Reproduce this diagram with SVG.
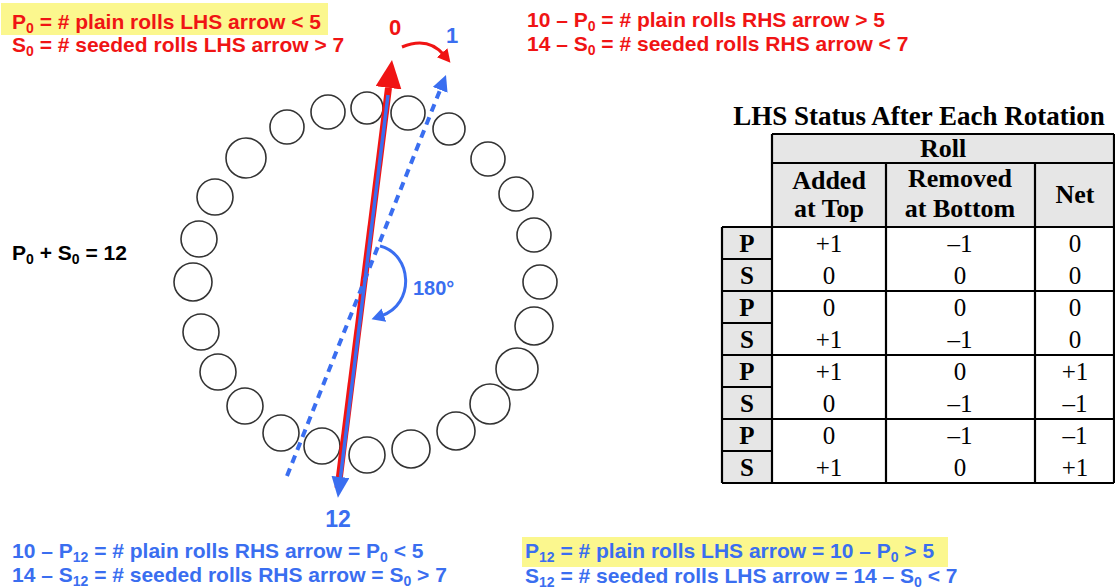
<svg xmlns="http://www.w3.org/2000/svg" width="1115" height="588" viewBox="0 0 1115 588">
<style>
.t{font-family:"Liberation Sans",Arial,sans-serif;font-weight:bold;font-size:21px}
.red{fill:#f01414}
.blue{fill:#3a6ef0}
.blk{fill:#000}
.roll{fill:none;stroke:#333;stroke-width:1.6}
.tb{font-family:"Liberation Serif","Times New Roman",serif;font-size:25px;fill:#000;text-anchor:middle}
.b{font-weight:bold}
.h{font-size:26px}
.grid{stroke:#000;stroke-width:2.2;fill:none}
</style>
<defs>
<marker id="hRed" markerUnits="userSpaceOnUse" markerWidth="30" markerHeight="26" refX="0" refY="13" orient="auto"><path d="M0,0 L28,13 L0,26 z" fill="#f01414"/></marker>
<marker id="hBlue" markerUnits="userSpaceOnUse" markerWidth="22" markerHeight="18" refX="0" refY="9" orient="auto"><path d="M0,0 L21,9 L0,18 z" fill="#3a6ef0"/></marker>
<marker id="hBlueS" markerUnits="userSpaceOnUse" markerWidth="18" markerHeight="16" refX="0" refY="8" orient="auto"><path d="M0,0 L16,8 L0,16 z" fill="#3a6ef0"/></marker>
<marker id="hRedS" markerUnits="userSpaceOnUse" markerWidth="14" markerHeight="14" refX="3" refY="7" orient="auto"><path d="M0,0 L13,7 L0,14 z" fill="#f01414"/></marker>
<marker id="hBlueA" markerUnits="userSpaceOnUse" markerWidth="14" markerHeight="14" refX="3" refY="7" orient="auto"><path d="M0,0 L13,7 L0,14 z" fill="#3a6ef0"/></marker>
</defs>
<rect width="1115" height="588" fill="#fff"/>

<!-- highlights -->
<rect x="1" y="3" width="327" height="32" fill="#fbf78e"/>
<rect x="522" y="537" width="426" height="30" fill="#fbf78e"/>

<!-- top-left texts -->
<g id="txt-p0">
<text class="t red" x="12" y="29">P<tspan font-size="14" dy="4">0</tspan><tspan dy="-4"> = # plain rolls LHS arrow &lt; 5</tspan></text>
<text class="t red" x="12" y="52">S<tspan font-size="14" dy="4">0</tspan><tspan dy="-4"> = # seeded rolls LHS arrow &gt; 7</tspan></text>
</g>
<g id="txt-rhs0">
<text class="t red" x="527" y="27">10 – P<tspan font-size="14" dy="4">0</tspan><tspan dy="-4"> = # plain rolls RHS arrow &gt; 5</tspan></text>
<text class="t red" x="527" y="51">14 – S<tspan font-size="14" dy="4">0</tspan><tspan dy="-4"> = # seeded rolls RHS arrow &lt; 7</tspan></text>
</g>
<g id="txt-sum">
<text class="t blk" x="12" y="260">P<tspan font-size="14" dy="4">0</tspan><tspan dy="-4"> + S</tspan><tspan font-size="14" dy="4">0</tspan><tspan dy="-4"> = 12</tspan></text>
</g>
<g id="txt-bl">
<text class="t blue" x="12" y="558">10 – P<tspan font-size="14" dy="4">12</tspan><tspan dy="-4"> = # plain rolls RHS arrow = P</tspan><tspan font-size="14" dy="4">0</tspan><tspan dy="-4"> &lt; 5</tspan></text>
<text class="t blue" x="12" y="582">14 – S<tspan font-size="14" dy="4">12</tspan><tspan dy="-4"> = # seeded rolls RHS arrow = S</tspan><tspan font-size="14" dy="4">0</tspan><tspan dy="-4"> &gt; 7</tspan></text>
</g>
<g id="txt-br">
<text class="t blue" x="525" y="558">P<tspan font-size="14" dy="4">12</tspan><tspan dy="-4"> = # plain rolls LHS arrow = 10 – P</tspan><tspan font-size="14" dy="4">0</tspan><tspan dy="-4"> &gt; 5</tspan></text>
<text class="t blue" x="525" y="583">S<tspan font-size="14" dy="4">12</tspan><tspan dy="-4">  = # seeded rolls LHS arrow = 14 – S</tspan><tspan font-size="14" dy="4">0</tspan><tspan dy="-4"> &lt; 7</tspan></text>
</g>

<!-- ring of rolls -->
<g id="rolls">
<circle class="roll" cx="287" cy="127" r="17"/>
<circle class="roll" cx="328" cy="112" r="17"/>
<circle class="roll" cx="367" cy="108" r="16"/>
<circle class="roll" cx="408" cy="113" r="17"/>
<circle class="roll" cx="449" cy="129" r="16"/>
<circle class="roll" cx="488" cy="159" r="17"/>
<circle class="roll" cx="516" cy="194" r="17"/>
<circle class="roll" cx="534" cy="235" r="17"/>
<circle class="roll" cx="540" cy="282" r="17"/>
<circle class="roll" cx="534" cy="326" r="19"/>
<circle class="roll" cx="517" cy="369" r="21"/>
<circle class="roll" cx="490" cy="404" r="20"/>
<circle class="roll" cx="456" cy="431" r="19"/>
<circle class="roll" cx="411" cy="449" r="19"/>
<circle class="roll" cx="367" cy="455" r="18"/>
<circle class="roll" cx="322" cy="446" r="18"/>
<circle class="roll" cx="281" cy="433" r="18"/>
<circle class="roll" cx="245" cy="406" r="18"/>
<circle class="roll" cx="218" cy="372" r="18"/>
<circle class="roll" cx="201" cy="332" r="18"/>
<circle class="roll" cx="193" cy="282" r="19"/>
<circle class="roll" cx="199" cy="239" r="18"/>
<circle class="roll" cx="215" cy="197" r="18"/>
<circle class="roll" cx="246" cy="158" r="20"/>
</g>

<!-- connectors -->
<g id="connectors">
<line x1="338" y1="488" x2="388.5" y2="87.8" stroke="#f01414" stroke-width="7" marker-end="url(#hRed)"/>
<line x1="388" y1="95" x2="340.5" y2="477" stroke="#3a6ef0" stroke-width="3.5" marker-end="url(#hBlue)"/>
<line x1="287" y1="476" x2="440.1" y2="89.9" stroke="#3a6ef0" stroke-width="4" stroke-dasharray="8 6" marker-end="url(#hBlueS)"/>
<path d="M402,47 Q428,36 444,55" fill="none" stroke="#f01414" stroke-width="3" marker-end="url(#hRedS)"/>
<path d="M380,246 C412,254 416,304 381,316" fill="none" stroke="#3a6ef0" stroke-width="3" marker-end="url(#hBlueA)"/>
</g>

<g id="labels">
<text class="t red" x="395" y="35" text-anchor="middle" style="font-size:22px">0</text>
<text class="t blue" x="452" y="43" text-anchor="middle" style="font-size:22px">1</text>
<text class="t blue" x="338" y="527" text-anchor="middle" style="font-size:23px">12</text>
<text class="t blue" x="413" y="295" style="font-size:20px">180°</text>
</g>

<!-- table -->
<g id="table">
<text class="tb b" x="919" y="125" style="font-size:27px">LHS Status After Each Rotation</text>
<rect x="772" y="134" width="342" height="93" fill="#e6e6e6"/>
<rect x="722" y="227" width="50" height="256" fill="#e6e6e6"/>
<g class="grid">
<path d="M772,134 H1114 M772,163 H1114 M772,134 V483 M886,163 V483 M1035,163 V483 M1114,134 V483"/>
<path d="M722,227 H1114 M722,291 H1114 M722,355 H1114 M722,419 H1114 M722,483 H1114 M722,227 V483"/>
<path d="M722,259 H772 M722,323 H772 M722,387 H772 M722,451 H772"/>
</g>
<text class="tb b h" x="943" y="157">Roll</text>
<text class="tb b h" x="829" y="189">Added</text>
<text class="tb b h" x="829" y="217">at Top</text>
<text class="tb b h" x="960" y="187">Removed</text>
<text class="tb b h" x="960" y="217">at Bottom</text>
<text class="tb b h" x="1075" y="203">Net</text>

<text class="tb b" x="747" y="252">P</text>
<text class="tb b" x="747" y="284">S</text>
<text class="tb b" x="747" y="316">P</text>
<text class="tb b" x="747" y="348">S</text>
<text class="tb b" x="747" y="380">P</text>
<text class="tb b" x="747" y="412">S</text>
<text class="tb b" x="747" y="444">P</text>
<text class="tb b" x="747" y="476">S</text>

<text class="tb" x="829" y="252">+1</text><text class="tb" x="960" y="252">–1</text><text class="tb" x="1075" y="252">0</text>
<text class="tb" x="829" y="284">0</text><text class="tb" x="960" y="284">0</text><text class="tb" x="1075" y="284">0</text>
<text class="tb" x="829" y="316">0</text><text class="tb" x="960" y="316">0</text><text class="tb" x="1075" y="316">0</text>
<text class="tb" x="829" y="348">+1</text><text class="tb" x="960" y="348">–1</text><text class="tb" x="1075" y="348">0</text>
<text class="tb" x="829" y="380">+1</text><text class="tb" x="960" y="380">0</text><text class="tb" x="1075" y="380">+1</text>
<text class="tb" x="829" y="412">0</text><text class="tb" x="960" y="412">–1</text><text class="tb" x="1075" y="412">–1</text>
<text class="tb" x="829" y="444">0</text><text class="tb" x="960" y="444">–1</text><text class="tb" x="1075" y="444">–1</text>
<text class="tb" x="829" y="476">+1</text><text class="tb" x="960" y="476">0</text><text class="tb" x="1075" y="476">+1</text>
</g>
</svg>
